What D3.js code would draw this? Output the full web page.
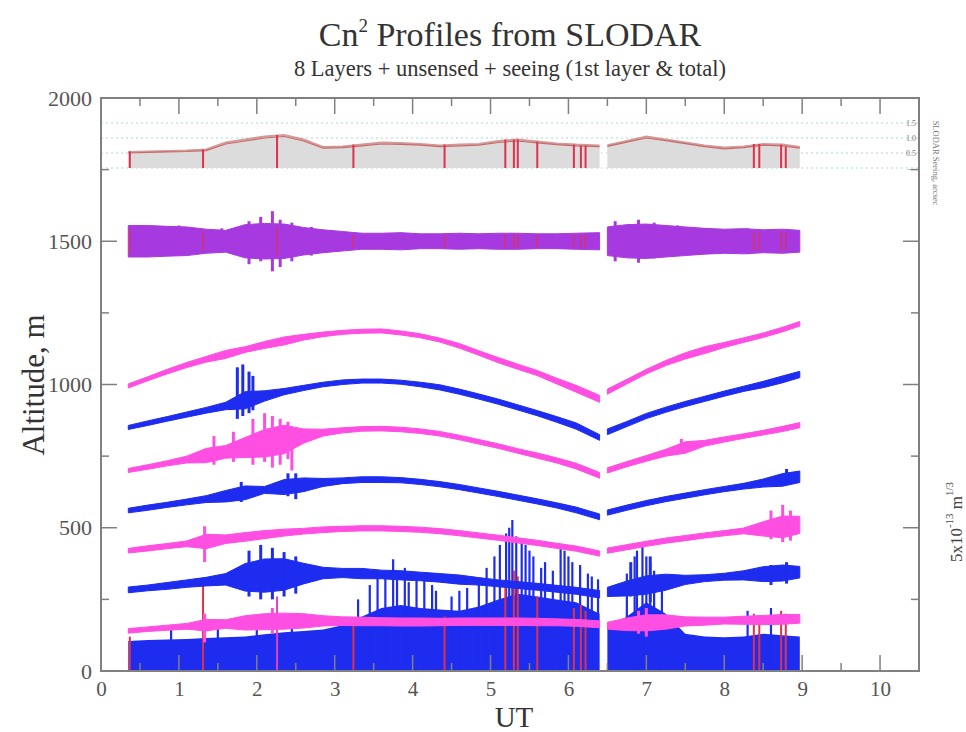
<!DOCTYPE html>
<html><head><meta charset="utf-8">
<script src="https://cdn.jsdelivr.net/npm/d3@7"></script>
<style>body{margin:0;background:#fff}svg{display:block}</style>
</head><body>
<script>
// ---------- DATA ----------
const times = [0.35,0.6,0.85,1.1,1.35,1.6,1.85,2.1,2.35,2.6,2.85,3.1,3.35,3.6,3.85,4.1,4.35,4.6,4.85,5.1,5.35,5.6,5.85,6.1,6.4,
               6.5,6.75,7.0,7.25,7.5,7.75,8.0,8.25,8.5,8.75,8.97];
const gapAfterIndex = 24; // data gap between 6.4 and 6.5 UT

// layer baselines (altitude offsets, m) and half-widths of the fluctuation band (m)
const layer8Base = [1500,1500,1500,1500,1500,1500,1500,1500,1500,1500,1500,1500,1500,1500,1500,1500,1500,1500,1500,1500,1500,1500,1500,1500,1500,
                    1500,1500,1500,1500,1500,1500,1500,1500,1500,1500,1500];
const layer8Amp  = [55,55,52,50,42,38,58,62,60,48,40,34,28,28,30,26,26,28,26,28,28,26,26,28,30, 50,58,60,55,50,45,42,44,40,42,38];
const layer7Base = [995,1020,1045,1068,1088,1105,1122,1138,1152,1165,1175,1182,1186,1187,1180,1170,1155,1135,1110,1085,1062,1040,1012,985,950,
                    975,1010,1045,1075,1100,1120,1138,1155,1172,1192,1212];
const layer7Amp  = [7,7,8,9,10,14,10,12,14,10,8,7,7,7,7,7,7,8,8,9,9,9,10,12,12, 9,8,8,9,11,12,9,8,8,8,8];
const layer6Base = [850,865,880,895,910,925,945,960,975,988,1000,1008,1012,1012,1008,1000,990,975,958,940,920,900,878,855,815,
                    835,862,890,912,932,950,968,985,1000,1018,1035];
const layer6Amp  = [7,8,8,9,10,13,30,18,11,9,8,8,7,7,7,8,9,9,9,9,9,9,10,11,10, 10,9,9,9,9,9,9,9,11,12,11];
const layer5Base = [700,712,725,738,752,765,780,795,808,820,832,840,845,846,843,837,828,815,800,785,768,752,735,715,683,
                    700,722,742,762,780,795,808,820,832,845,858];
const layer5Amp  = [7,8,9,12,25,22,35,48,50,25,12,9,8,8,8,8,8,8,8,8,8,9,9,10,10, 9,9,10,12,20,10,9,8,8,9,9];
const layer4Base = [560,570,580,590,600,610,622,632,642,650,658,664,668,668,666,660,652,642,630,618,605,592,578,562,538,
                    553,570,586,600,612,624,635,645,656,667,678];
const layer4Amp  = [8,9,9,10,12,20,24,12,26,24,14,10,10,10,9,9,9,9,9,9,9,9,9,10,10, 9,9,9,9,9,9,9,10,14,22,20];
const layer3Base = [420,428,436,444,452,460,468,476,483,488,493,496,498,498,496,493,488,481,473,465,456,447,437,427,410,
                    420,432,444,455,464,473,481,489,496,503,510];
const layer3Amp  = [8,9,9,10,25,15,15,14,12,10,10,9,9,9,9,9,9,9,9,9,9,9,9,9,9, 9,9,9,9,9,9,9,10,25,38,30];
const layer2Base = [283,290,297,305,312,320,327,333,337,340,342,342,340,337,334,330,325,319,313,306,300,294,287,280,268,
                    276,288,300,310,318,324,329,334,338,342,345];
const layer2Amp  = [10,10,12,13,15,20,48,58,55,36,20,16,18,15,16,15,15,16,13,12,12,12,12,12,13, 16,26,32,28,16,12,12,16,26,28,20];
const layer1Base = [140,146,151,156,160,164,168,172,174,175,175,174,173,172,171,171,171,172,172,172,172,171,170,168,163,
                    158,163,168,171,173,174,176,177,178,180,182];
const layer1Amp  = [8,8,9,10,20,15,25,28,28,25,18,15,15,14,14,14,13,13,13,13,13,13,12,12,12, 12,22,28,25,16,14,12,14,16,17,15];
// isolated fluctuation extremes drawn as strokes: time, low & high altitude, layer number
const bandSpikeTimes = [1.0,1.55,1.9,2.05,2.2,2.3,2.45,2.7,6.6,6.9,7.1,7.4,8.3,
                        1.75,1.82,1.9,1.95,
                        1.45,1.7,1.95,2.1,2.2,2.3,2.4,2.45,7.45,
                        1.8,2.4,2.5,8.8,
                        1.33,8.6,8.75,8.85,
                        1.9,2.05,2.2,2.35,2.5,6.8,7.05,8.6,8.8,
                        1.33,2.2,6.9,7.0];
const bandSpikeLow   = [1450,1460,1420,1430,1395,1410,1430,1450,1430,1425,1440,1450,1455,
                        880,890,900,910,
                        720,730,720,730,710,720,740,700,760,
                        590,610,600,650,
                        380,460,450,455,
                        260,250,250,260,270,260,240,300,305,
                        100,130,130,120];
const bandSpikeHigh  = [1555,1545,1570,1585,1605,1575,1565,1550,1570,1575,1565,1555,1545,
                        1060,1070,1045,1030,
                        820,835,880,900,890,880,870,850,810,
                        660,690,690,705,
                        505,560,580,560,
                        420,440,430,415,400,380,400,370,380,
                        200,220,210,220];
const bandSpikeLayer = [8,8,8,8,8,8,8,8,8,8,8,8,8,
                        6,6,6,6,
                        5,5,5,5,5,5,5,5,5,
                        4,4,4,4,
                        3,3,3,3,
                        2,2,2,2,2,2,2,2,2,
                        1,1,1,1];
// ground layer (filled from 0)
const groundTop  = [105,108,110,112,115,118,120,128,135,140,145,160,190,220,230,220,215,210,225,250,270,260,250,240,200,
                    150,190,240,200,130,120,118,120,130,125,120];
const groundSpikeTimes   = [0.9,1.5,2.0,2.45,3.3,3.45,3.55,3.65,3.75,3.8,3.9,3.95,4.05,4.15,4.25,4.3,4.5,4.6,4.7,4.85,4.95,5.05,5.12,5.2,5.24,5.28,5.33,5.4,5.45,5.5,5.55,5.65,5.7,5.8,5.9,5.95,6.0,6.05,6.15,6.25,6.3,6.38,6.75,6.85,6.88,6.95,7.0,7.05,7.1,7.2,8.3,8.6];
const groundSpikeHeights = [150,160,170,190,250,300,330,350,390,340,360,310,330,320,300,280,260,280,290,320,360,400,440,480,500,527,470,460,440,420,400,360,380,350,440,420,400,380,370,340,330,320,340,400,420,445,400,380,350,300,210,220];
// flagged samples (red)
const flagTimes   = [0.37,1.31,2.26,3.24,4.41,5.19,5.30,5.35,5.60,6.07,6.16,6.22,8.38,8.45,8.73,8.79];
const flagHeights = [120,300,260,180,190,300,350,330,260,220,230,210,200,190,210,200];
// seeing panel (arcsec)
const seeingTotal = [0.53,0.55,0.57,0.58,0.62,0.85,0.95,1.05,1.10,0.95,0.70,0.72,0.78,0.85,0.83,0.80,0.75,0.78,0.80,0.90,0.95,0.88,0.82,0.78,0.75,
                     0.76,0.90,1.05,0.95,0.85,0.75,0.68,0.72,0.80,0.78,0.70];
const seeingFirst = [0.50,0.52,0.54,0.55,0.58,0.80,0.90,1.00,1.05,0.90,0.66,0.68,0.74,0.80,0.79,0.76,0.71,0.74,0.76,0.85,0.90,0.84,0.78,0.74,0.71,
                     0.72,0.86,1.00,0.91,0.81,0.71,0.64,0.68,0.76,0.74,0.66];
const seeingTicks = [0, 0.5, 1.0, 1.5];
const seeingTickLabels = ["\u2014", "0.5", "1.0", "1.5"];
const xTicks = [0,1,2,3,4,5,6,7,8,9,10];
const yTicks = [0,500,1000,1500,2000];

// ---------- CHART ----------
const W = 966, H = 732;
const svg = d3.select("body").append("svg").attr("width", W).attr("height", H);
const x = d3.scaleLinear().domain([0, 10.5]).range([101, 919]);
const y = d3.scaleLinear().domain([0, 2000]).range([671, 98]);
const ys = d3.scaleLinear().domain([0, 1.5]).range([168, 123]);

const MAG = "#ff4fe2", BLUE = "#1e2cf0", PURP = "#a63ae0", RED = "#e0304a";
const serif = "'Liberation Serif','DejaVu Serif',serif";

function segs(arrs) {
  const rows = times.map((t, i) => { const o = {t}; for (const k in arrs) o[k] = arrs[k][i]; return o; });
  return [rows.slice(0, gapAfterIndex + 1), rows.slice(gapAfterIndex + 1)];
}

// seeing panel
const gS = svg.append("g");
seeingTicks.forEach((v) => {
  gS.append("line").attr("x1", x(0)).attr("x2", x(10.5)).attr("y1", ys(v)).attr("y2", ys(v))
    .attr("stroke", "#a9d6dc").attr("stroke-width", 1.2).attr("stroke-dasharray", "2,3");
});
const seeArea = d3.area().x(d => x(d.t)).y0(ys(0)).y1(d => ys(d.s));
segs({s: seeingTotal, f: seeingFirst}).forEach(seg => {
  gS.append("path").attr("d", seeArea(seg)).attr("fill", "#dcdcdc");
  gS.append("path").attr("d", d3.line().x(d => x(d.t)).y(d => ys(d.s))(seg))
    .attr("fill", "none").attr("stroke", "#d49a9a").attr("stroke-width", 2);
  gS.append("path").attr("d", d3.line().x(d => x(d.t)).y(d => ys(d.f))(seg))
    .attr("fill", "none").attr("stroke", "#c96a6a").attr("stroke-width", 1.2);
});
flagTimes.forEach((t) => {
  const i = Math.min(d3.bisectLeft(times, t), times.length - 1);
  gS.append("line").attr("x1", x(t)).attr("x2", x(t)).attr("y1", ys(0)).attr("y2", ys(seeingTotal[i]))
    .attr("stroke", RED).attr("stroke-width", 2);
});
seeingTicks.forEach((v, i) => {
  gS.append("text").attr("x", 916).attr("y", ys(v) + 3).attr("text-anchor", "end")
    .attr("font-family", serif).attr("font-size", 8).attr("fill", "#777").text(seeingTickLabels[i]);
});
svg.append("text").attr("transform", "translate(933,163) rotate(90)").attr("text-anchor", "middle")
  .attr("font-family", serif).attr("font-size", 8.5).attr("fill", "#777").text("SLODAR Seeing, arcsec");

// ground layer
const gG = svg.append("g");
const groundArea = d3.area().x(d => x(d.t)).y0(y(0)).y1(d => y(d.g));
segs({g: groundTop}).forEach(seg => gG.append("path").attr("d", groundArea(seg)).attr("fill", BLUE));
groundSpikeTimes.forEach((t, i) => {
  gG.append("line").attr("x1", x(t)).attr("x2", x(t)).attr("y1", y(0)).attr("y2", y(groundSpikeHeights[i]))
    .attr("stroke", BLUE).attr("stroke-width", 2.2);
});
flagTimes.forEach((t, i) => {
  gG.append("line").attr("x1", x(t)).attr("x2", x(t)).attr("y1", y(0)).attr("y2", y(flagHeights[i]))
    .attr("stroke", i === 2 ? "#e040c0" : RED).attr("stroke-width", 2);
});

// layers
const layers = [
  {b: layer1Base, a: layer1Amp, c: MAG},
  {b: layer2Base, a: layer2Amp, c: BLUE},
  {b: layer3Base, a: layer3Amp, c: MAG},
  {b: layer4Base, a: layer4Amp, c: BLUE},
  {b: layer5Base, a: layer5Amp, c: MAG},
  {b: layer6Base, a: layer6Amp, c: BLUE},
  {b: layer7Base, a: layer7Amp, c: MAG},
  {b: layer8Base, a: layer8Amp, c: PURP}
];
const band = d3.area().x(d => x(d.t)).y0(d => y(d.b - d.a)).y1(d => y(d.b + d.a));
layers.forEach((L, li) => {
  segs({b: L.b, a: L.a}).forEach(seg => {
    svg.append("path").attr("d", band(seg)).attr("fill", L.c).attr("stroke", L.c).attr("stroke-width", 1);
  });
  bandSpikeTimes.forEach((t, i) => {
    if (bandSpikeLayer[i] !== li + 1) return;
    svg.append("line").attr("x1", x(t)).attr("x2", x(t)).attr("y1", y(bandSpikeLow[i])).attr("y2", y(bandSpikeHigh[i]))
      .attr("stroke", L.c).attr("stroke-width", 3);
  });
});
// flagged samples inside the top layer
flagTimes.forEach((t) => {
  const i = Math.min(d3.bisectLeft(times, t), times.length - 1);
  svg.append("line").attr("x1", x(t)).attr("x2", x(t))
    .attr("y1", y(layer8Base[i] - layer8Amp[i] * 0.8)).attr("y2", y(layer8Base[i] + layer8Amp[i] * 0.8))
    .attr("stroke", RED).attr("stroke-width", 1.2);
});
// gap marker
svg.append("line").attr("x1", x(6.45)).attr("x2", x(6.45)).attr("y1", y(0)).attr("y2", y(2000))
  .attr("stroke", "#fff").attr("stroke-width", 2);

// frame & ticks
const axC = "#808080";
svg.append("rect").attr("x", 101).attr("y", 98).attr("width", 818).attr("height", 573)
  .attr("fill", "none").attr("stroke", axC).attr("stroke-width", 2);
d3.range(0, 10.51, 0.5).forEach(v => {
  const L = Number.isInteger(v) ? 16 : 8;
  svg.append("line").attr("x1", x(v)).attr("x2", x(v)).attr("y1", 671).attr("y2", 671 - L).attr("stroke", axC).attr("stroke-width", 1.5);
  svg.append("line").attr("x1", x(v)).attr("x2", x(v)).attr("y1", 98).attr("y2", 98 + L).attr("stroke", axC).attr("stroke-width", 1.5);
});
d3.range(0, 2001, 250).forEach(v => {
  const L = v % 500 === 0 ? 16 : 8;
  svg.append("line").attr("x1", 101).attr("x2", 101 + L).attr("y1", y(v)).attr("y2", y(v)).attr("stroke", axC).attr("stroke-width", 1.5);
  svg.append("line").attr("x1", 919).attr("x2", 919 - L).attr("y1", y(v)).attr("y2", y(v)).attr("stroke", axC).attr("stroke-width", 1.5);
});
const xAxis = d3.axisBottom(x).tickValues(xTicks).tickSize(0).tickPadding(10).tickFormat(d3.format("d"));
const gx = svg.append("g").attr("transform", "translate(0,671)").call(xAxis);
gx.select(".domain").remove();
gx.selectAll("text").attr("font-family", serif).attr("font-size", 21).attr("fill", "#555");
const yAxis = d3.axisLeft(y).tickValues(yTicks).tickSize(0).tickPadding(9).tickFormat(d3.format("d"));
const gy = svg.append("g").attr("transform", "translate(101,0)").call(yAxis);
gy.select(".domain").remove();
gy.selectAll("text").attr("font-family", serif).attr("font-size", 22).attr("fill", "#555");

// titles
const t1 = svg.append("text").attr("x", 510).attr("y", 46).attr("text-anchor", "middle")
  .attr("font-family", serif).attr("font-size", 34).attr("fill", "#333");
t1.append("tspan").text("Cn");
t1.append("tspan").attr("dy", -14).attr("font-size", 19).text("2");
t1.append("tspan").attr("dy", 14).text(" Profiles from SLODAR");
svg.append("text").attr("x", 510).attr("y", 76).attr("text-anchor", "middle")
  .attr("font-family", serif).attr("font-size", 22.5).attr("fill", "#333")
  .text("8 Layers + unsensed + seeing (1st layer & total)");
svg.append("text").attr("x", 514).attr("y", 727).attr("text-anchor", "middle")
  .attr("font-family", serif).attr("font-size", 29).attr("fill", "#333").text("UT");
svg.append("text").attr("transform", "translate(44,385) rotate(-90)").attr("text-anchor", "middle")
  .attr("font-family", serif).attr("font-size", 31).attr("fill", "#333").text("Altitude, m");
const rl = svg.append("text").attr("transform", "translate(962,522) rotate(-90)").attr("text-anchor", "middle")
  .attr("font-family", serif).attr("font-size", 17).attr("fill", "#444");
rl.append("tspan").text("5x10");
rl.append("tspan").attr("dy", -9).attr("font-size", 11).text("-13");
rl.append("tspan").attr("dy", 9).text(" m");
rl.append("tspan").attr("dy", -9).attr("font-size", 11).text("1/3");
</script>
</body></html>
